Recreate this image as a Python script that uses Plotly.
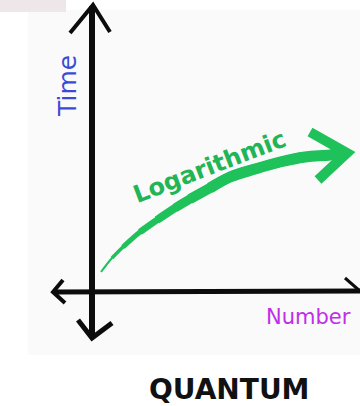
import plotly.graph_objects as go

# Sketch coordinates: origin where the two axes cross, x to the right, y upward.
# Logarithmic growth curve (Number -> Time)
curve_x = [9, 20, 31, 48, 65, 83, 98, 118, 138, 163, 188, 213, 238, 251]
curve_y = [21, 35, 46, 61, 73, 85, 94, 105, 116, 124, 131, 136, 138, 140]

# Arrowhead at the end of the curve: upper arm, tip, lower arm
head_x = [218, 255, 226]
head_y = [161, 140, 113]

# Vertical (Time) axis with arrowheads at both ends
vaxis_x = [0, 0]
vaxis_y = [287, -43]
vtop_x = [-22, 1, 18]
vtop_y = [260, 288, 261]
vbot_x = [-14, 0, 20]
vbot_y = [-27, -45, -30]

# Horizontal (Number) axis with arrowheads at both ends
haxis_x = [-39, 268]
haxis_y = [1, 2]
hleft_x = [-29, -39, -27]
hleft_y = [13, 1, -10]
hright_x = [253, 268]
hright_y = [15, 2]

GREEN = "#1fc25a"
INK = "#0c0c0c"

fig = go.Figure()

def stroke(xs, ys, color, width, shape="linear"):
    fig.add_trace(go.Scatter(
        x=xs, y=ys, mode="lines",
        line=dict(color=color, width=width, shape=shape),
        hoverinfo="skip", showlegend=False,
    ))

# axes
stroke(vaxis_x, vaxis_y, INK, 6)
stroke(vtop_x, vtop_y, INK, 4)
stroke(vbot_x, vbot_y, INK, 5)
stroke(haxis_x, haxis_y, INK, 5)
stroke(hleft_x, hleft_y, INK, 4)
stroke(hright_x, hright_y, INK, 3)

# tapered green curve: later parts are overdrawn with thicker strokes
widths = [2, 3.5, 5, 6.5, 8, 9, 10, 11]
for k, w in enumerate(widths):
    stroke(curve_x[k:], curve_y[k:], GREEN, w, shape="spline")
stroke(head_x, head_y, GREEN, 10)

annotations = [
    dict(x=-25, y=207, text="Time", textangle=-90,
         font=dict(family="DejaVu Sans", size=25, color="#3d4ad8")),
    dict(x=216, y=-24, text="Number",
         font=dict(family="DejaVu Sans", size=21, color="#c02ee6")),
    dict(x=117, y=126, text="Logarithmic", textangle=-21,
         font=dict(family="DejaVu Sans", size=24, color="#22b556", weight="bold")),
    dict(x=137, y=-96, text="QUANTUM",
         font=dict(family="DejaVu Sans", size=28, color="#111111", weight="bold")),
]
for a in annotations:
    a.update(xref="x", yref="y", showarrow=False)

fig.update_layout(
    width=360, height=406,
    margin=dict(l=0, r=0, t=0, b=0),
    paper_bgcolor="#ffffff",
    plot_bgcolor="#ffffff",
    xaxis=dict(range=[-92, 268], visible=False, fixedrange=True),
    yaxis=dict(range=[-113, 293], visible=False, fixedrange=True),
    annotations=annotations,
    shapes=[
        dict(type="rect", xref="x", yref="y", x0=-64, x1=268, y0=-62, y1=283,
             fillcolor="#fafafa", line=dict(width=0), layer="below"),
        dict(type="rect", xref="x", yref="y", x0=-92, x1=-26, y0=281, y1=293,
             fillcolor="#ede7e9", line=dict(width=0), layer="below"),
    ],
)

fig.write_html("out.html")
